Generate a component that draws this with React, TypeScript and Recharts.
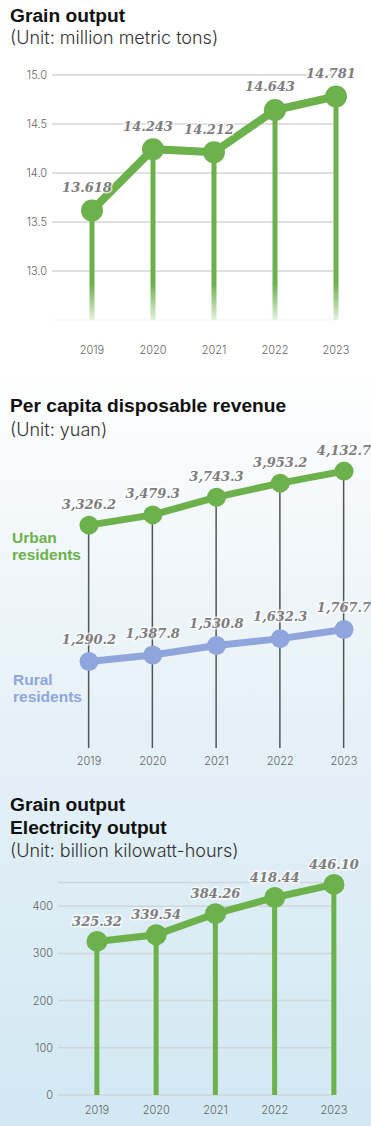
import React from 'react';
import { ComposedChart, Line, Bar, XAxis, YAxis, CartesianGrid, LabelList } from 'recharts';

const years = [2019, 2020, 2021, 2022, 2023];
const grainValues = [13.618, 14.243, 14.212, 14.643, 14.781];
const grainTicks = [12.5, 13, 13.5, 14, 14.5, 15];
const urbanValues = [3326.2, 3479.3, 3743.3, 3953.2, 4132.7];
const ruralValues = [1290.2, 1387.8, 1530.8, 1632.3, 1767.7];
const electricityValues = [325.32, 339.54, 384.26, 418.44, 446.1];
const electricityTicks = [0, 100, 200, 300, 400];

const grainData = years.map((year, i) => ({ year, v: grainValues[i] }));
const incomeData = years.map((year, i) => ({ year, urban: urbanValues[i], rural: ruralValues[i] }));
const elecData = years.map((year, i) => ({ year, v: electricityValues[i] }));

const GREEN = '#6cb14b';
const BLUE = '#8fa5dc';
const BOLD_SANS = '"Liberation Sans", Arial, sans-serif';
const LIGHT_SANS = 'Inter, Roboto, sans-serif';
const SERIF = '"DejaVu Serif", "Liberation Serif", serif';

const tickStyle = { fontFamily: LIGHT_SANS, fontSize: 11, fill: '#636363', fontWeight: 300 };

const makeLabel = (fmt: (v: number) => string, dy: number, dx = 0) => (props: any) => {
  const { x, y, value } = props;
  if (x == null || y == null) return null;
  return (
    <text
      x={x + dx}
      y={y + dy}
      textAnchor="middle"
      dominantBaseline="central"
      fontFamily={SERIF}
      fontWeight="bold"
      fontStyle="italic"
      fontSize={13}
      fill="#7e7e7e"
      stroke="#ffffff"
      strokeWidth={3}
      strokeOpacity={0.7}
      paintOrder="stroke"
    >
      {fmt(value)}
    </text>
  );
};

const fmt3 = (v: number) => v.toFixed(3);
const fmt2 = (v: number) => v.toFixed(2);
const fmtIncome = (v: number) =>
  v.toLocaleString('en-US', { minimumFractionDigits: 1, maximumFractionDigits: 1 });

const ThinStem = (props: any) => {
  const { x, y, width, height } = props;
  if (x == null || height == null) return null;
  return <rect x={x + width / 2 - 0.75} y={y} width={1.5} height={height} fill="#555555" />;
};

const titleStyle: React.CSSProperties = {
  position: 'absolute',
  left: 10,
  fontFamily: BOLD_SANS,
  fontWeight: 700,
  fontSize: 19.2,
  lineHeight: 1,
  color: '#111',
  whiteSpace: 'nowrap',
};
const subStyle: React.CSSProperties = {
  position: 'absolute',
  left: 10,
  fontFamily: LIGHT_SANS,
  fontWeight: 300,
  fontSize: 18,
  lineHeight: 1,
  color: '#333',
  whiteSpace: 'nowrap',
};
const seriesNameStyle: React.CSSProperties = {
  position: 'absolute',
  left: 12,
  fontFamily: BOLD_SANS,
  fontWeight: 700,
  fontSize: 15.5,
  lineHeight: '17.5px',
  whiteSpace: 'nowrap',
};

export default function App() {
  return (
    <div
      style={{
        position: 'absolute',
        left: 0,
        top: 0,
        width: 371,
        height: 1126,
        overflow: 'hidden',
        background:
          'linear-gradient(to bottom, #ffffff 0px, #ffffff 370px, #f3f8fb 520px, #e6f1f7 720px, #d2e8f3 1126px)',
      }}
    >
      {/* Chart 1 */}
      <div style={{ ...titleStyle, top: 5.75 }}>Grain output</div>
      <div style={{ ...subStyle, top: 28.5 }}>(Unit: million metric tons)</div>
      <div style={{ position: 'absolute', left: 0, top: 50 }}>
        <ComposedChart
          width={371}
          height={320}
          data={grainData}
          margin={{ top: 25, right: 5, bottom: 20, left: 0 }}
        >
          <CartesianGrid vertical={false} x={52} width={281} stroke="#d6d6d6" strokeWidth={1.5} />
          <XAxis
            dataKey="year"
            type="number"
            domain={[2018.3443, 2023.4918]}
            ticks={years}
            axisLine={false}
            tickLine={false}
            tickSize={0}
            tickMargin={26}
            height={30}
            tick={tickStyle}
          />
          <YAxis
            domain={[12.5, 15]}
            ticks={grainTicks}
            width={52}
            axisLine={false}
            tickLine={false}
            tickSize={0}
            tickMargin={5}
            tick={tickStyle}
            tickFormatter={(v: number) => (v === 12.5 ? '' : v.toFixed(1))}
          />
          <Bar dataKey="v" barSize={5} fill={GREEN} isAnimationActive={false} />
          <Line
            dataKey="v"
            stroke={GREEN}
            strokeWidth={8}
            dot={{ r: 11, fill: GREEN, stroke: 'none', strokeWidth: 0 }}
            activeDot={false}
            isAnimationActive={false}
          >
            <LabelList dataKey="v" content={makeLabel(fmt3, -23, -5)} />
          </Line>
        </ComposedChart>
      </div>
      <div
        style={{
          position: 'absolute',
          left: 0,
          top: 284,
          width: 371,
          height: 50,
          background: 'linear-gradient(to bottom, rgba(255,255,255,0) 0%, rgba(255,255,255,0.85) 75%, #ffffff 100%)',
        }}
      />

      {/* Chart 2 */}
      <div style={{ ...titleStyle, top: 396.05 }}>Per capita disposable revenue</div>
      <div style={{ ...subStyle, top: 421.2 }}>(Unit: yuan)</div>
      <div style={{ position: 'absolute', left: 0, top: 440 }}>
        <ComposedChart
          width={371}
          height={340}
          data={incomeData}
          margin={{ top: 6.5, right: 5, bottom: 10, left: 57 }}
        >
          <XAxis
            dataKey="year"
            type="number"
            domain={[2018.498, 2023.345]}
            ticks={years}
            axisLine={false}
            tickLine={false}
            tickSize={0}
            tickMargin={9.5}
            height={22}
            tick={tickStyle}
          />
          <YAxis hide domain={[0, 4500]} />
          <Bar dataKey="urban" barSize={5} shape={<ThinStem />} isAnimationActive={false} />
          <Line
            dataKey="urban"
            stroke={GREEN}
            strokeWidth={7}
            dot={{ r: 9.5, fill: GREEN, stroke: 'none', strokeWidth: 0 }}
            activeDot={false}
            isAnimationActive={false}
          >
            <LabelList dataKey="urban" content={makeLabel(fmtIncome, -21)} />
          </Line>
          <Line
            dataKey="rural"
            stroke={BLUE}
            strokeWidth={7}
            dot={{ r: 9.5, fill: BLUE, stroke: 'none', strokeWidth: 0 }}
            activeDot={false}
            isAnimationActive={false}
          >
            <LabelList dataKey="rural" content={makeLabel(fmtIncome, -22)} />
          </Line>
        </ComposedChart>
      </div>
      <div style={{ ...seriesNameStyle, top: 528.5, color: GREEN }}>
        Urban
        <br />
        residents
      </div>
      <div style={{ ...seriesNameStyle, top: 670.5, left: 13, color: BLUE }}>
        Rural
        <br />
        residents
      </div>

      {/* Chart 3 */}
      <div style={{ ...titleStyle, top: 795.45 }}>Grain output</div>
      <div style={{ ...titleStyle, top: 818.05 }}>Electricity output</div>
      <div style={{ ...subStyle, top: 841.8 }}>(Unit: billion kilowatt-hours)</div>
      <div style={{ position: 'absolute', left: 0, top: 845 }}>
        <ComposedChart
          width={371}
          height={281}
          data={elecData}
          margin={{ top: 37.6, right: 31, bottom: 6, left: 0 }}
        >
          <CartesianGrid vertical={false} x={58} width={275} stroke="#cfd6d9" strokeWidth={1.5} />
          <XAxis
            dataKey="year"
            type="number"
            domain={[2018.3418, 2023.1013]}
            ticks={years}
            axisLine={false}
            tickLine={false}
            tickSize={0}
            tickMargin={11}
            height={25}
            tick={tickStyle}
          />
          <YAxis
            domain={[0, 450]}
            ticks={electricityTicks}
            width={58}
            axisLine={false}
            tickLine={false}
            tickSize={0}
            tickMargin={5}
            tick={tickStyle}
          />
          <Bar dataKey="v" barSize={5} fill={GREEN} isAnimationActive={false} />
          <Line
            dataKey="v"
            stroke={GREEN}
            strokeWidth={7}
            dot={{ r: 10.5, fill: GREEN, stroke: 'none', strokeWidth: 0 }}
            activeDot={false}
            isAnimationActive={false}
          >
            <LabelList dataKey="v" content={makeLabel(fmt2, -20)} />
          </Line>
        </ComposedChart>
      </div>
    </div>
  );
}
